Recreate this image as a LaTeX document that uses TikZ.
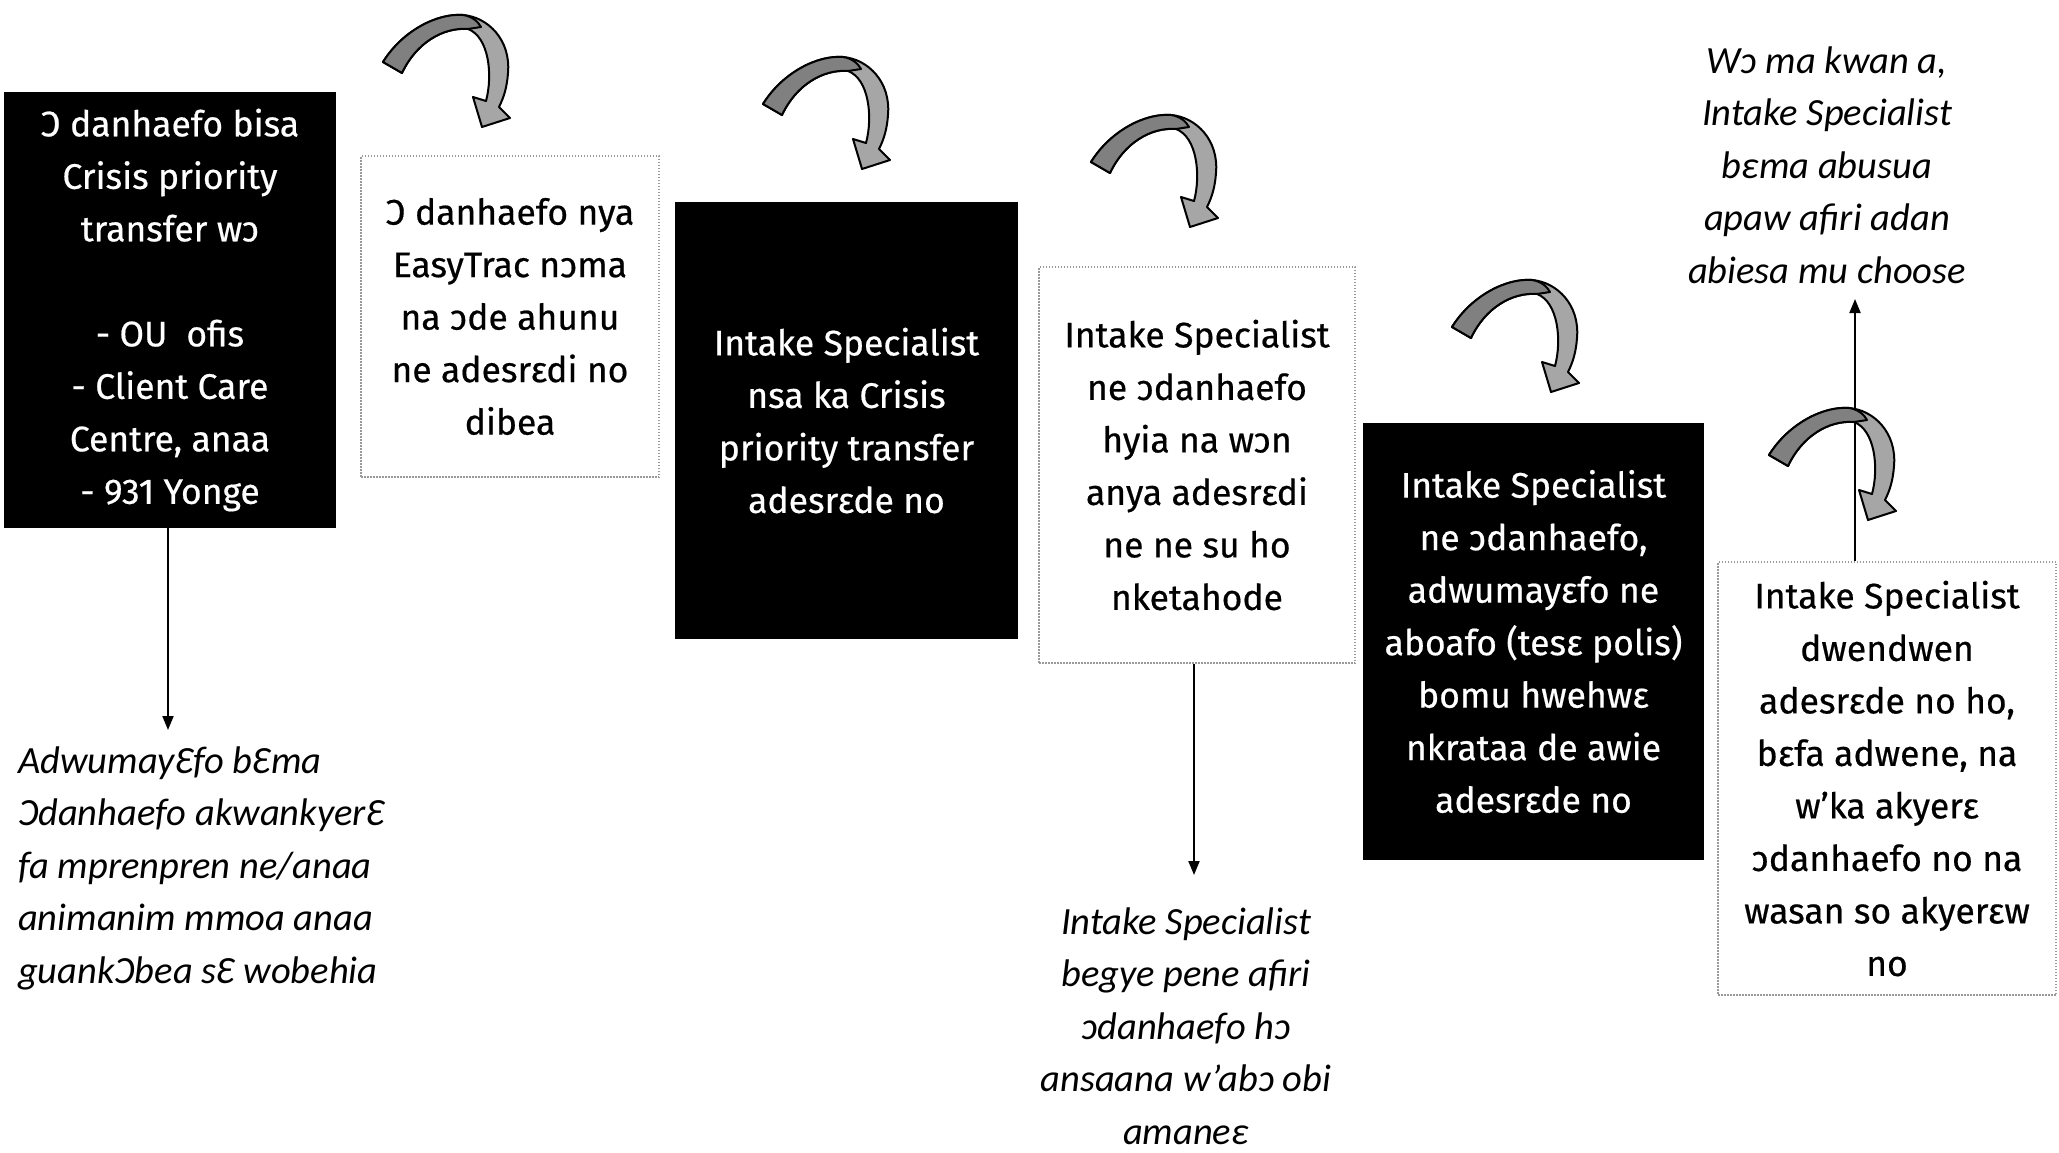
\documentclass[tikz,border=0pt]{standalone}
\usepackage{fontspec}
\setmainfont{Fira Sans}
\newfontfamily\bxfam{Fira Sans}[FakeBold=0.5]
\newfontfamily\calfont{Carlito}
\usetikzlibrary{arrows.meta}
\definecolor{darkg}{HTML}{808080}
\definecolor{lightg}{HTML}{A6A6A6}
\newcommand\bxfont{\bxfam\fontsize{35.5}{52.5}\selectfont}
\newcommand\ntfont{\calfont\itshape\fontsize{38.5}{52.5}\selectfont}
\tikzset{
  blackbox/.style={rectangle, fill=black, text=white, inner sep=0pt, align=center, font=\bxfont},
  dotbox/.style={rectangle, draw=gray!80, line width=1.5pt, dash pattern=on 1.5pt off 1.5pt, fill=white, inner sep=0pt, align=center, font=\bxfont},
  note/.style={inner sep=0pt, font=\ntfont},
  conn/.style={line width=2pt, -{Triangle[length=14pt,width=11pt]}},
  pics/curvearrow/.style={code={
    \filldraw[fill=lightg, draw=black, line width=2pt, line join=round]
      (0,47) .. controls (20,15) and (55,-2) .. (80,0)
      .. controls (105,2) and (128,25) .. (125,58)
      .. controls (124,72) and (121,82) .. (116,92)
      -- (127,103) -- (99,112) -- (90,82) -- (103,86)
      .. controls (110,60) and (106,22) .. (85,14)
      .. controls (60,12) and (33,28) .. (19,58) -- cycle;
    \filldraw[fill=darkg, draw=black, line width=2pt, line join=round]
      (0,47) .. controls (20,15) and (55,-2) .. (80,0)
      .. controls (88,1) and (95,6) .. (98,12)
      -- (85,14) .. controls (60,12) and (33,28) .. (19,58) -- cycle;
  }}
}
\begin{document}
\begin{tikzpicture}[x=1pt, y=-1pt]
\useasboundingbox[fill=white] (0,0) rectangle (2059,1152);

\node[blackbox, minimum width=332pt, minimum height=436pt] (b1) at (170,310)
  {\raisebox{-4pt}{\parbox{320pt}{\centering Ɔ danhaefo bisa\\Crisis priority\\transfer wɔ\\ ~ \\- OU\ \ ofis\\- Client Care\\Centre, anaa\\- 931 Yonge}}};
\node[dotbox, minimum width=298pt, minimum height=321pt] (b2) at (510,316.5)
  {Ɔ danhaefo nya\\EasyTrac nɔma\\na ɔde ahunu\\ne adesrɛdi no\\dibea};
\node[blackbox, minimum width=343pt, minimum height=437pt] (b3) at (846.5,420.5)
  {Intake Specialist\\nsa ka Crisis\\priority transfer\\adesrɛde no};
\node[dotbox, minimum width=316pt, minimum height=396pt] (b4) at (1197,465)
  {Intake Specialist\\ne ɔdanhaefo\\hyia na wɔn\\anya adesrɛdi\\ne ne su ho\\nketahode};
\node[blackbox, minimum width=341pt, minimum height=437pt] (b5) at (1533.5,641.5)
  {Intake Specialist\\ne ɔdanhaefo,\\adwumayɛfo ne\\aboafo (tesɛ polis)\\bomu hwehwɛ\\nkrataa de awie\\adesrɛde no};
\node[dotbox, minimum width=338pt, minimum height=433pt] (b6) at (1887,778.5)
  {Intake Specialist\\dwendwen\\adesrɛde no ho,\\bɛfa adwene, na\\w’ka akyerɛ\\ɔdanhaefo no na\\wasan so akyerɛw\\no};

\node[note, anchor=west, align=left] (n1) at (18,868)
  {AdwumayƐfo bƐma\\Ɔdanhaefo akwankyerƐ\\fa mprenpren ne/anaa\\animanim mmoa anaa\\guankƆbea sƐ wobehia};
\node[note, align=center] (n4) at (1186,1026)
  {Intake Specialist\\begye pene afiri\\ɔdanhaefo hɔ\\ansaana w’abɔ obi\\amaneɛ};
\node[note, align=center] (n6) at (1827,165)
  {Wɔ ma kwan a,\\Intake Specialist\\bɛma abusua\\apaw afiri adan\\abiesa mu choose};

\coordinate (e1) at (168,730);
\coordinate (e4) at (1194,875);
\coordinate (e6) at (1855,299);
\draw[conn] (b1.south -| e1) -- (e1);
\draw[conn] (b4.south -| e4) -- (e4);
\draw[conn] (b6.north -| e6) -- (e6);

\pic at (383,15) {curvearrow};
\pic at (763,57) {curvearrow};
\pic at (1091,115) {curvearrow};
\pic at (1452,280) {curvearrow};
\pic at (1769,408) {curvearrow};
\end{tikzpicture}
\end{document}
